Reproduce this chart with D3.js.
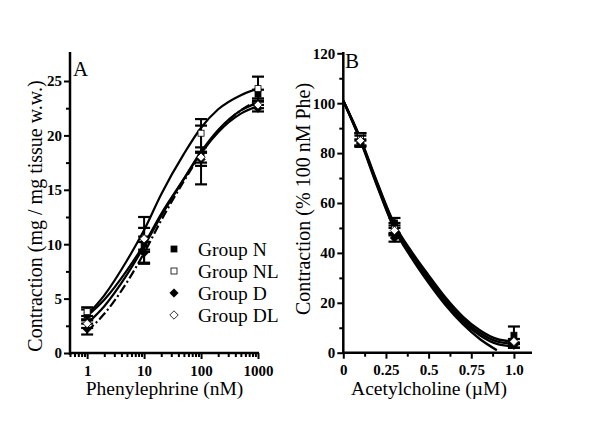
<!DOCTYPE html>
<html>
<head>
<meta charset="utf-8">
<script src="https://cdn.jsdelivr.net/npm/d3@7"></script>
<style>
  body { margin: 0; background: #fff; }
  text { font-family: "Liberation Serif", "Times New Roman", serif; }
</style>
</head>
<body>
<div id="chart"></div>
<script>
// ---- data: panel A (phenylephrine) ----
var groupNames = ["Group N", "Group NL", "Group D", "Group DL"];
var pheDoses = [1, 10, 100, 1000];
var pheN = [3.5, 10.0, 18.2, 23.8], pheNErr = [0.5, 0.7, 2.7, 0.4];
var pheNL = [3.8, 10.4, 20.2, 24.3], pheNLErr = [0.4, 2.1, 1.3, 1.1];
var pheD = [2.2, 9.2, 17.8, 22.5], pheDErr = [0.5, 1.0, 0.6, 0.3];
var pheDL = [2.7, 10.5, 18.0, 22.8], pheDLErr = [0.4, 1.0, 0.5, 0.3];
// fitted curves
var pheCurveX = [1, 2, 5, 10, 20, 50, 100, 200, 500, 1000];
var pheCurveN = [3.4, 4.9, 7.6, 10.0, 12.8, 16.0, 18.4, 20.3, 22.0, 22.7];
var pheCurveNL = [3.5, 5.3, 8.5, 11.3, 14.6, 18.3, 20.7, 22.4, 23.7, 24.3];
var pheCurveD = [2.7, 4.3, 7.2, 9.8, 12.6, 16.0, 18.5, 20.5, 22.3, 23.0];
var pheCurveDL = [2.0, 3.6, 6.5, 9.2, 12.2, 15.8, 18.3, 20.4, 22.3, 23.2];
var pheYTicks = [0, 5, 10, 15, 20, 25];
var pheXTicks = [1, 10, 100, 1000];

// ---- data: panel B (acetylcholine) ----
var achDoses = [0.1, 0.3, 1.0];
var achN = [85.5, 52, 7], achNErr = [2.5, 2, 3.5];
var achNL = [86.5, 50, 3], achNLErr = [1.5, 2, 1];
var achD = [84, 46, 3], achDErr = [1.5, 1.5, 1];
var achDL = [85, 49, 4.5], achDLErr = [2, 2, 1];
var achCurveX = [0, 0.1, 0.2, 0.3, 0.4, 0.5, 0.6, 0.7, 0.8, 0.9, 1.0];
var achCurveN = [101, 85.5, 67.5, 51, 40, 30, 21, 13.5, 8, 4.5, 3.5];
var achCurveNL = [101, 85.5, 67, 50, 39, 29, 20, 12.5, 7, 3.5, 2.5];
var achCurveD = [101, 86, 68, 51.5, 40.5, 31, 22, 14.5, 9, 5.5, 4.5];
var achCurveDL = [101, 85, 66.5, 49.5, 38, 28, 19, 11.5, 5.5, 1];
var achYTicks = [0, 20, 40, 60, 80, 100, 120];
var achXTicks = [0, 0.25, 0.5, 0.75, 1.0];
var achXTickLabels = ["0", "0.25", "0.5", "0.75", "1.0"];

var svg = d3.select("#chart").append("svg")
    .attr("width", 600).attr("height", 425)
    .style("background", "#fff");

function marker(g, shape, x, y, size) {
  var s = size;
  if (shape === "fsq" || shape === "osq") {
    g.append("rect").attr("x", x - s / 2).attr("y", y - s / 2)
      .attr("width", s).attr("height", s)
      .attr("fill", shape === "fsq" ? "#000" : "#fff")
      .attr("stroke", "#000").attr("stroke-width", 0.8);
  } else {
    var d = s * 0.7;
    g.append("path")
      .attr("d", "M" + x + "," + (y - d) + "L" + (x + d) + "," + y + "L" + x + "," + (y + d) + "L" + (x - d) + "," + y + "Z")
      .attr("fill", shape === "fdi" ? "#000" : "#fff")
      .attr("stroke", "#000").attr("stroke-width", 0.8);
  }
}
var shapes = ["fsq", "osq", "fdi", "odi"];

// ================= Panel A =================
var xA = d3.scaleLog().domain([0.5, 1000]).range([70, 258]);
var yA = d3.scaleLinear().domain([0, 25]).range([353, 81]);
var gA = svg.append("g");

var lineA = d3.line()
    .x(function(d) { return xA(d[0]); })
    .y(function(d) { return yA(d[1]); })
    .curve(d3.curveMonotoneX);

var pheCurves = [pheCurveN, pheCurveNL, pheCurveD, pheCurveDL];
var pheDash = [null, null, null, "9,3,2,3"];
pheCurves.forEach(function(c, i) {
  gA.append("path")
    .datum(pheCurveX.map(function(x, j) { return [x, c[j]]; }))
    .attr("d", lineA)
    .attr("fill", "none").attr("stroke", "#000")
    .attr("stroke-width", 2.2)
    .attr("stroke-dasharray", pheDash[i]);
});

var pheMeans = [pheN, pheNL, pheD, pheDL];
var pheErrs = [pheNErr, pheNLErr, pheDErr, pheDLErr];
pheMeans.forEach(function(m, i) {
  pheDoses.forEach(function(dose, j) {
    var x = xA(dose), e = pheErrs[i][j];
    gA.append("line").attr("x1", x).attr("x2", x)
      .attr("y1", yA(m[j] - e)).attr("y2", yA(m[j] + e))
      .attr("stroke", "#000").attr("stroke-width", 2);
    [m[j] - e, m[j] + e].forEach(function(v) {
      gA.append("line").attr("x1", x - 6).attr("x2", x + 6)
        .attr("y1", yA(v)).attr("y2", yA(v))
        .attr("stroke", "#000").attr("stroke-width", 2.2);
    });
    marker(gA, shapes[i], x, yA(m[j]), 6);
  });
});

// axes A
gA.append("g").attr("transform", "translate(70,0)")
  .call(d3.axisLeft(yA).tickValues(pheYTicks).tickSize(6).tickPadding(2).tickFormat(d3.format("d")));
gA.append("g").attr("class", "minor").attr("transform", "translate(70,0)")
  .call(d3.axisLeft(yA).tickValues(d3.range(2.5, 27.5, 5)).tickSize(4));
gA.append("g").attr("transform", "translate(0,353)")
  .call(d3.axisBottom(xA).tickValues(pheXTicks).tickSize(6).tickPadding(6).tickFormat(d3.format("d")));
var minorA = [];
[0.1, 1, 10, 100].forEach(function(dec) {
  for (var k = 2; k <= 9; k++) { var v = dec * k; if (v >= 0.5 && v < 1000) minorA.push(v); }
});
gA.append("g").attr("class", "minor").attr("transform", "translate(0,353)")
  .call(d3.axisBottom(xA).tickValues(minorA).tickSize(4));

gA.append("line").attr("x1", 70).attr("x2", 70).attr("y1", 52).attr("y2", 355)
  .attr("stroke", "#000").attr("stroke-width", 2.5);
gA.append("line").attr("x1", 69).attr("x2", 259).attr("y1", 353).attr("y2", 353)
  .attr("stroke", "#000").attr("stroke-width", 2.5);

// ================= Panel B =================
var xB = d3.scaleLinear().domain([0, 1.1]).range([343.3, 531]);
var yB = d3.scaleLinear().domain([0, 120]).range([352.7, 53.3]);
var gB = svg.append("g");

var lineB = d3.line()
    .x(function(d) { return xB(d[0]); })
    .y(function(d) { return yB(d[1]); })
    .curve(d3.curveMonotoneX);

var achCurves = [achCurveN, achCurveNL, achCurveD, achCurveDL];
achCurves.forEach(function(c) {
  gB.append("path")
    .datum(c.map(function(v, j) { return [achCurveX[j], v]; }))
    .attr("d", lineB)
    .attr("fill", "none").attr("stroke", "#000")
    .attr("stroke-width", 2.4);
});

var achMeans = [achN, achNL, achD, achDL];
var achErrs = [achNErr, achNLErr, achDErr, achDLErr];
achMeans.forEach(function(m, i) {
  achDoses.forEach(function(dose, j) {
    var x = xB(dose), e = achErrs[i][j];
    gB.append("line").attr("x1", x).attr("x2", x)
      .attr("y1", yB(m[j] - e)).attr("y2", yB(m[j] + e))
      .attr("stroke", "#000").attr("stroke-width", 2);
    [m[j] - e, m[j] + e].forEach(function(v) {
      gB.append("line").attr("x1", x - 6).attr("x2", x + 6)
        .attr("y1", yB(v)).attr("y2", yB(v))
        .attr("stroke", "#000").attr("stroke-width", 2.2);
    });
    marker(gB, shapes[i], x, yB(m[j]), 6);
  });
});

gB.append("g").attr("transform", "translate(343.3,0)")
  .call(d3.axisLeft(yB).tickValues(achYTicks).tickSize(6).tickPadding(2).tickFormat(d3.format("d")));
gB.append("g").attr("class", "minor").attr("transform", "translate(343.3,0)")
  .call(d3.axisLeft(yB).tickValues(d3.range(10, 120, 20)).tickSize(4));
gB.append("g").attr("transform", "translate(0,352.7)")
  .call(d3.axisBottom(xB).tickValues(achXTicks).tickSize(6).tickPadding(6)
    .tickFormat(function(d, i) { return achXTickLabels[i]; }));
gB.append("g").attr("class", "minor").attr("transform", "translate(0,352.7)")
  .call(d3.axisBottom(xB).tickValues([0.125, 0.375, 0.625, 0.875]).tickSize(4));
gB.append("line").attr("x1", 343.3).attr("x2", 343.3).attr("y1", 52).attr("y2", 354)
  .attr("stroke", "#000").attr("stroke-width", 2.5);
gB.append("line").attr("x1", 342).attr("x2", 532).attr("y1", 352.7).attr("y2", 352.7)
  .attr("stroke", "#000").attr("stroke-width", 2.5);

// style axes: minor axes carry no labels
svg.selectAll(".minor .tick text").remove();
svg.selectAll(".domain").remove();
svg.selectAll(".tick line").attr("stroke", "#000").attr("stroke-width", 2);
svg.selectAll(".tick text")
  .attr("fill", "#000")
  .style("font-family", "'Liberation Serif', serif")
  .style("font-size", "15px").style("font-weight", "bold");

// legend (panel A)
var legend = gA.append("g");
groupNames.forEach(function(name, i) {
  var y = 249 + i * 22;
  marker(legend, shapes[i], 174, y, 6);
  legend.append("text").attr("x", 198).attr("y", y + 6.5)
    .style("font-size", "19.5px").text(name);
});

// panel letters
svg.append("text").attr("x", 73).attr("y", 76).style("font-size", "21px").text("A");
svg.append("text").attr("x", 345).attr("y", 68).style("font-size", "21px").text("B");

// axis titles
svg.append("text").attr("transform", "translate(42,216) rotate(-90)")
  .attr("text-anchor", "middle").style("font-size", "20px")
  .text("Contraction (mg / mg tissue w.w.)");
svg.append("text").attr("x", 164.5).attr("y", 395)
  .attr("text-anchor", "middle").style("font-size", "19.5px")
  .text("Phenylephrine (nM)");
svg.append("text").attr("transform", "translate(310,199) rotate(-90)")
  .attr("text-anchor", "middle").style("font-size", "20px")
  .text("Contraction (% 100 nM Phe)");
svg.append("text").attr("x", 429).attr("y", 395)
  .attr("text-anchor", "middle").style("font-size", "19.5px")
  .text("Acetylcholine (\u00B5M)");
</script>
</body>
</html>
